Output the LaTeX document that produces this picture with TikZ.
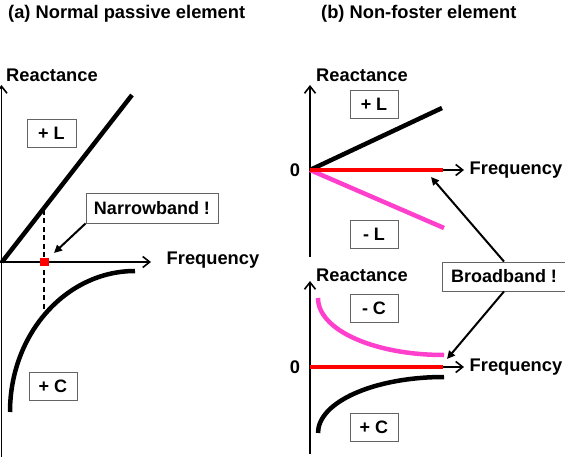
\documentclass[tikz,border=0pt]{standalone}
\usepackage{fontspec}
\setmainfont{Liberation Sans}
\usetikzlibrary{arrows.meta}
\definecolor{pinkline}{RGB}{255,64,204}
\definecolor{boxgray}{RGB}{100,100,100}
\tikzset{
  lbl/.style={font=\fontsize{18.3}{20}\selectfont\bfseries, inner sep=0pt},
  tagbox/.style={draw=boxgray, line width=0.9pt, fill=white, font=\fontsize{18}{20}\selectfont\bfseries, inner sep=0pt, minimum width=48pt, minimum height=28pt},
  axis/.style={line width=1.8pt, -{Straight Barb[length=7pt,width=11pt,line width=1.6pt]}},
  curve/.style={line width=4.5pt},
  pointer/.style={line width=2pt, -{Triangle[length=8pt,width=7.5pt]}},
}
\begin{document}
\begin{tikzpicture}[x=1pt,y=-1pt]
\useasboundingbox (0,0) rectangle (565,457);
\clip (0,0) rectangle (565,457);
% titles
\node[lbl, anchor=west] (ta) at (8,14) {(a) Normal passive element};
\node[lbl, anchor=west] (tb) at (321,14) {(b) Non-foster element};

% ---------- panel (a) ----------
\coordinate (ay0) at (1.5,457);
\coordinate (ay1) at (1.5,85);
\coordinate (ax0) at (0,262);
\coordinate (ax1) at (151,262);
\draw[axis] (ay0) -- (ay1);
\draw[axis] (ax0) -- (ax1);
\node[lbl] (aR) at (52,75) {Reactance};
\node[lbl] (aF) at (213,260) {Frequency};
\coordinate (aL0) at (2,262);
\coordinate (aL1) at (132,95);
\draw[curve] (aL0) -- (aL1);
\coordinate (aC0) at (10,412);
\coordinate (aC1) at (135,271);
\draw[curve] (aC0) .. controls (10,334) and (66,271) .. (aC1);
\coordinate (ad0) at (44,210);
\coordinate (ad1) at (44,311);
\draw[line width=1.6pt, dash pattern=on 5pt off 3.5pt] (ad0) -- (ad1);
\fill[red] (40,258.5) rectangle (49,265.5);
\node[tagbox, minimum width=49pt] (aLb) at (51.5,133) {+ L};
\node[tagbox] (aCb) at (53,386) {+ C};
\node[tagbox, minimum width=132pt, minimum height=30pt] (nb) at (152,208) {Narrowband !};
\coordinate (nbt) at (54,253);
\draw[pointer] (nb.south west) -- (nbt);

% ---------- panel (b) top ----------
\coordinate (by0) at (310,257);
\coordinate (by1) at (310,85);
\draw[axis] (by0) -- (by1);
\coordinate (bx0) at (310,170);
\coordinate (bx1) at (464,170);
\draw[axis] (bx0) -- (bx1);
\node[lbl] (bR) at (362,75) {Reactance};
\node[lbl] (bF) at (516,170) {Frequency};
\node[lbl] (b0) at (295,170) {0};
\coordinate (bL1) at (442,108);
\coordinate (bM1) at (444,228);
\coordinate (bz1) at (443,170);
\draw[curve] (bx0) -- (bL1);
\draw[curve, pinkline] (bx0) -- (bM1);
\draw[curve, red, line cap=butt] (bx0) -- (bz1);
\node[tagbox] (bLb) at (374,104) {+ L};
\node[tagbox] (bMb) at (374,234) {- L};

% ---------- panel (b) bottom ----------
\coordinate (cy0) at (310,454);
\coordinate (cy1) at (310,281);
\draw[axis] (cy0) -- (cy1);
\coordinate (cx0) at (310,367);
\coordinate (cx1) at (464,367);
\draw[axis] (cx0) -- (cx1);
\node[lbl] (cR) at (362,275) {Reactance};
\node[lbl] (cF) at (516,367) {Frequency};
\node[lbl] (c0) at (295,367) {0};
\coordinate (cz1) at (443,367);
\draw[curve, red, line cap=butt] (cx0) -- (cz1);
\coordinate (cM0) at (318,298);
\coordinate (cM1) at (444,355);
\draw[curve, pinkline] (cM0) .. controls (318,330) and (374,355) .. (cM1);
\coordinate (cP0) at (318,433);
\coordinate (cP1) at (444,377);
\draw[curve] (cP0) .. controls (318,402) and (374,377) .. (cP1);
\node[tagbox] (cMb) at (374,308) {- C};
\node[tagbox] (cPb) at (374,427.5) {+ C};

% broadband
\node[tagbox, minimum width=124pt, minimum height=29pt] (bb) at (504,276.5) {Broadband !};
\coordinate (bbt1) at (431,177);
\coordinate (bbt2) at (447,359);
\draw[pointer] (bb.north) -- (bbt1);
\draw[pointer] (bb.south) -- (bbt2);
\end{tikzpicture}
\end{document}
